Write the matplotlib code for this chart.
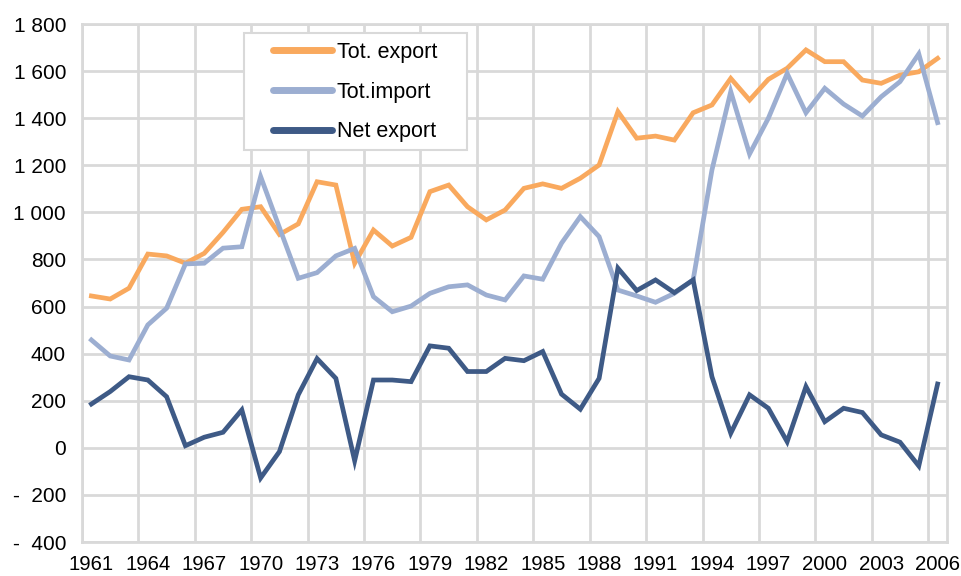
import matplotlib
matplotlib.use("Agg")
import matplotlib.pyplot as plt
from matplotlib.patches import Rectangle
from matplotlib.ticker import FixedLocator, FuncFormatter

years = list(range(1961, 2007))
tot_export = [645, 632, 678, 823, 815, 784, 826, 915, 1013, 1024,
              906, 951, 1130, 1116, 784, 925, 857, 894, 1088, 1116,
              1024, 968, 1010, 1102, 1121, 1102, 1145, 1201, 1428, 1315,
              1324, 1307, 1423, 1456, 1569, 1477, 1565, 1612, 1690, 1640,
              1640, 1562, 1548, 1583, 1597, 1654]
tot_import = [458, 390, 373, 522, 593, 781, 784, 848, 854, 1152,
              935, 720, 744, 815, 847, 642, 578, 602, 656, 684,
              692, 649, 628, 730, 716, 869, 982, 897, 670, 645,
              618, 656, 713, 1180, 1513, 1248, 1400, 1590, 1423, 1527,
              1460, 1409, 1491, 1555, 1673, 1381]
net_export = [186, 239, 302, 288, 217, 9, 45, 66, 161, -128,
              -16, 225, 379, 295, -55, 288, 288, 281, 433, 423,
              324, 324, 380, 370, 409, 228, 164, 295, 763, 668,
              713, 659, 713, 302, 62, 225, 168, 26, 260, 111,
              168, 150, 55, 24, -77, 271]
series_names = ["Tot. export", "Tot.import", "Net export"]
y_ticks = list(range(-400, 2000, 200))

colors = ["#F9A95E", "#9CAED1", "#3E5A86"]
grid_c = "#D9D9D9"
FONT = ["Liberation Sans", "DejaVu Sans"]
plt.rcParams["font.family"] = FONT

fig = plt.figure(figsize=(9.62, 5.76), dpi=100)
ax = fig.add_axes([82/962, 1-542/576, (947-82)/962, (542-24)/576])

x = list(range(len(years)))
lines = []
for vals, c, name in zip([tot_export, tot_import, net_export], colors, series_names):
    ln, = ax.plot(x, vals, color=c, lw=3.4, solid_joinstyle="miter", label=name, zorder=3)
    lines.append(ln)

ax.set_xlim(-0.5, len(years) - 0.5)
ax.set_ylim(-400, 1800)

# y axis
ax.yaxis.set_major_locator(FixedLocator(y_ticks))
def yfmt(v, pos):
    v = int(round(v))
    if v < 0:
        return "-  " + f"{abs(v):,}".replace(",", " ")
    return f"{v:,}".replace(",", " ")
ax.yaxis.set_major_formatter(FuncFormatter(yfmt))

# x axis: labels at category centers, grid between categories every 3
lab_idx = list(range(0, len(years), 3))
ax.set_xticks(lab_idx)
ax.set_xticklabels([str(years[i]) for i in lab_idx])
ax.set_xticks([i - 0.5 for i in range(0, len(years), 3)], minor=True)

ax.tick_params(axis="y", length=0, pad=11.5, labelsize=15, colors="black")
ax.tick_params(axis="x", which="major", length=0, pad=9.5, labelsize=14.7, colors="black")
ax.tick_params(axis="x", which="minor", length=0)

ax.grid(False)
ax.yaxis.grid(True, which="major", color=grid_c, lw=2, zorder=0)
ax.xaxis.grid(True, which="minor", color=grid_c, lw=2, zorder=0)
ax.set_axisbelow(True)
for s in ax.spines.values():
    s.set_color(grid_c)
    s.set_linewidth(2)

# legend box
x0 = (244-82)/865
x1 = (467-82)/865
y0 = (542-150)/518
y1 = (542-33)/518
ax.add_patch(Rectangle((x0, y0), x1-x0, y1-y0, transform=ax.transAxes,
                       facecolor="white", edgecolor=grid_c, lw=1.5, zorder=4))
leg = ax.legend(handles=lines, loc="upper left",
                bbox_to_anchor=((273-82)/865, (542-42)/518),
                frameon=False, borderaxespad=0, borderpad=0,
                handlelength=2.74, handletextpad=0.23, labelspacing=0.865,
                fontsize=15.5)
leg.set_zorder(5)
for h in leg.get_lines():
    h.set_linewidth(5)
    h.set_solid_capstyle("round")

fig.savefig("out.png", dpi=100)
